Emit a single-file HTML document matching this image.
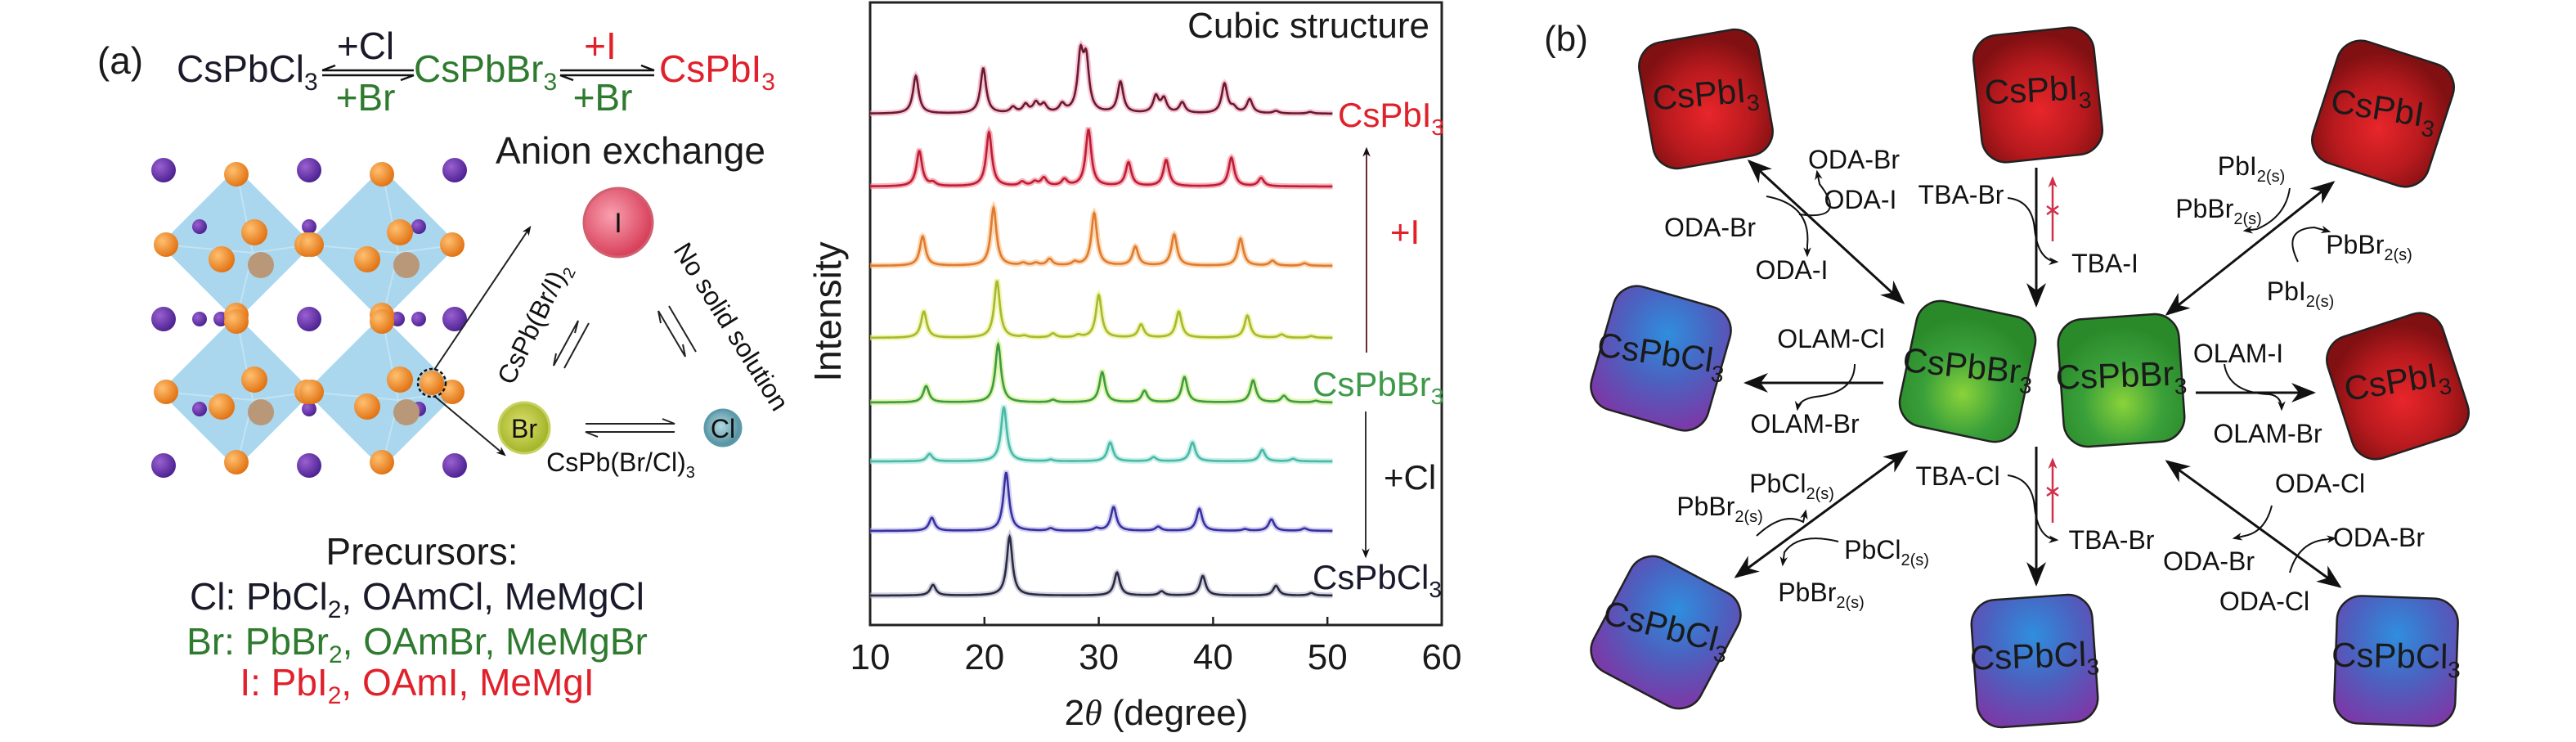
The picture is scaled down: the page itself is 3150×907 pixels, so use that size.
<!DOCTYPE html>
<html><head><meta charset="utf-8"><style>
html,body{margin:0;padding:0;background:#fff;}
svg{display:block;}
text{font-family:"Liberation Sans",sans-serif;}
</style></head><body>
<svg id="fig" width="3150" height="907" viewBox="0 0 3150 907" xmlns="http://www.w3.org/2000/svg">
<defs>
<marker id="ah" viewBox="0 0 10 10" refX="9" refY="5" markerWidth="30" markerHeight="30" orient="auto-start-reverse" markerUnits="userSpaceOnUse"><path d="M0,1 L10,5 L0,9 L3,5 z" fill="#111"/></marker>
<marker id="hs" viewBox="0 0 10 10" refX="8" refY="5" markerWidth="12" markerHeight="12" orient="auto" markerUnits="userSpaceOnUse"><path d="M0,1 L10,5 L0,9 L3,5 z" fill="#111"/></marker>
<marker id="hr" viewBox="0 0 10 10" refX="8" refY="5" markerWidth="14" markerHeight="14" orient="auto" markerUnits="userSpaceOnUse"><path d="M0,1 L10,5 L0,9 L3,5 z" fill="#d0304a"/></marker>
<radialGradient id="gRed" cx="0.5" cy="0.62" r="0.6"><stop offset="0" stop-color="#e8262a"/><stop offset="0.6" stop-color="#b81a1e"/><stop offset="1" stop-color="#801012"/></radialGradient>
<radialGradient id="gGreen" cx="0.5" cy="0.68" r="0.6"><stop offset="0" stop-color="#8ad33a"/><stop offset="0.55" stop-color="#3aa03a"/><stop offset="1" stop-color="#2a8a2a"/></radialGradient>
<radialGradient id="gBlue" cx="0.5" cy="0.3" r="0.75"><stop offset="0" stop-color="#2f8ede"/><stop offset="0.5" stop-color="#4b62c0"/><stop offset="1" stop-color="#7a3aa8"/></radialGradient>
<radialGradient id="gI" cx="0.4" cy="0.4" r="0.6"><stop offset="0" stop-color="#f9a0b0"/><stop offset="1" stop-color="#d8405a"/></radialGradient>
<radialGradient id="gBr" cx="0.45" cy="0.45" r="0.6"><stop offset="0" stop-color="#e0e070"/><stop offset="1" stop-color="#9ab020"/></radialGradient>
<radialGradient id="gCl" cx="0.45" cy="0.45" r="0.6"><stop offset="0" stop-color="#b0d8e0"/><stop offset="1" stop-color="#4a8898"/></radialGradient>
<radialGradient id="gOr" cx="0.35" cy="0.35" r="0.7"><stop offset="0" stop-color="#ffc070"/><stop offset="1" stop-color="#e07010"/></radialGradient>
<radialGradient id="gPu" cx="0.35" cy="0.35" r="0.7"><stop offset="0" stop-color="#9a60d0"/><stop offset="1" stop-color="#4a2090"/></radialGradient>
</defs>

<g font-size="46">
<text x="147" y="90" text-anchor="middle" fill="#1a1a1a">(a)</text>
<text x="216" y="100" fill="#1a1a2a">CsPbCl<tspan font-size="30" dy="10">3</tspan></text>
<text x="447" y="72" text-anchor="middle" fill="#1a1a2a">+Cl</text>
<text x="447" y="135" text-anchor="middle" fill="#2e7a2e">+Br</text>
<g stroke="#111" stroke-width="2.5" fill="none">
<path d="M394,86 L506,86"/><path d="M394,86 L410,80"/><path d="M394,92 L506,92"/><path d="M506,92 L490,98"/></g>
<text x="506" y="100" fill="#2e7a2e">CsPbBr<tspan font-size="30" dy="10">3</tspan></text>
<text x="734" y="72" text-anchor="middle" fill="#e0202a">+I</text>
<text x="737" y="135" text-anchor="middle" fill="#2e7a2e">+Br</text>
<g stroke="#111" stroke-width="2.5" fill="none">
<path d="M685,86 L800,86"/><path d="M800,86 L784,80"/><path d="M685,92 L800,92"/><path d="M685,92 L701,98"/></g>
<text x="806" y="100" fill="#e0202a">CsPbI<tspan font-size="30" dy="10">3</tspan></text>
<text x="771" y="200" text-anchor="middle" fill="#1a1a1a">Anion exchange</text>
</g>

<g id="crystal"></g>

<g>
<path d="M531,452 L648,278" stroke="#222" stroke-width="2" marker-end="url(#hs)" fill="none"/>
<path d="M531,484 L617,556" stroke="#222" stroke-width="2" marker-end="url(#hs)" fill="none"/>
<circle cx="528" cy="468" r="17" fill="none" stroke="#111" stroke-width="2.5" stroke-dasharray="4 3"/>
<circle cx="756" cy="272" r="42" fill="url(#gI)" stroke="#d06070" stroke-width="3"/>
<text x="756" y="284" text-anchor="middle" font-size="34" fill="#111">I</text>
<circle cx="641" cy="523" r="31" fill="url(#gBr)" stroke="#c8d060" stroke-width="3"/>
<text x="641" y="535" text-anchor="middle" font-size="32" fill="#111">Br</text>
<circle cx="884" cy="523" r="22" fill="url(#gCl)" stroke="#5a9aaa" stroke-width="3"/>
<text x="884" y="535" text-anchor="middle" font-size="32" fill="#111">Cl</text>
<g stroke="#222" stroke-width="2" fill="none">
<path d="M716,518 L825,518 L810,512"/><path d="M825,528 L716,528 L731,534"/>
<path d="M677,447 L707,392 L703,407"/><path d="M690,450 L720,395"/><path d="M677,447 L680,432"/>
<path d="M805,380 L838,436 L835,421"/><path d="M818,374 L851,430"/><path d="M805,380 L808,395"/>
</g>
<text transform="translate(662,400) rotate(-64)" text-anchor="middle" font-size="32" fill="#111">CsPb(Br/I)<tspan font-size="20" dy="8">2</tspan></text>
<text transform="translate(885,405) rotate(58)" text-anchor="middle" font-size="32" fill="#111">No solid solution</text>
<text x="759" y="576" text-anchor="middle" font-size="32" fill="#111">CsPb(Br/Cl)<tspan font-size="20" dy="8">3</tspan></text>
</g>

<g font-size="46" text-anchor="middle">
<text x="516" y="690" fill="#1a1a1a">Precursors:</text>
<text x="510" y="745" fill="#1a1a2a">Cl: PbCl<tspan font-size="30" dy="10">2</tspan><tspan dy="-10">, OAmCl, MeMgCl</tspan></text>
<text x="510" y="800" fill="#2e7a2e">Br: PbBr<tspan font-size="30" dy="10">2</tspan><tspan dy="-10">, OAmBr, MeMgBr</tspan></text>
<text x="510" y="850" fill="#e0202a">I: PbI<tspan font-size="30" dy="10">2</tspan><tspan dy="-10">, OAmI, MeMgI</tspan></text>
</g>

<g id="xrd">
<rect x="1064" y="3" width="699" height="761" fill="none" stroke="#222" stroke-width="3"/>
<g id="traces"></g>
<g id="xticks"></g>
<text x="1748" y="46" text-anchor="end" font-size="44" fill="#1a1a1a">Cubic structure</text>
<text transform="translate(1028,381) rotate(-90)" text-anchor="middle" font-size="46" fill="#1a1a1a">Intensity</text>
<text x="1414" y="886" text-anchor="middle" font-size="44" fill="#1a1a1a">2<tspan font-family="Liberation Serif" font-style="italic">θ</tspan> (degree)</text>
<text x="1636" y="155" font-size="42" fill="#e0202a">CsPbI<tspan font-size="28" dy="10">3</tspan></text>
<text x="1605" y="484" font-size="42" fill="#3e9a4a">CsPbBr<tspan font-size="28" dy="10">3</tspan></text>
<text x="1605" y="720" font-size="42" fill="#1a1a2a">CsPbCl<tspan font-size="28" dy="10">3</tspan></text>
<text x="1700" y="298" font-size="42" fill="#e0202a">+I</text>
<text x="1692" y="598" font-size="42" fill="#1a1a1a">+Cl</text>
<line x1="1671" y1="431" x2="1671" y2="182" stroke="#6a2a30" stroke-width="2" marker-end="url(#hs)"/>
<line x1="1670" y1="503" x2="1670" y2="680" stroke="#333" stroke-width="2" marker-end="url(#hs)"/>
</g>

<g id="panelb">
<text x="1915" y="62" text-anchor="middle" font-size="44" fill="#1a1a1a">(b)</text>
<g id="boxes"></g>
<g stroke="#111" stroke-width="3" fill="none">
<path d="M2139,197 L2327,370" marker-start="url(#ah)" marker-end="url(#ah)"/>
<path d="M2490,205 L2490,373" marker-end="url(#ah)"/>
<path d="M2853,223 L2650,384" marker-start="url(#ah)" marker-end="url(#ah)"/>
<path d="M2303,468 L2135,468" marker-end="url(#ah)"/>
<path d="M2685,480 L2829,480" marker-end="url(#ah)"/>
<path d="M2331,552 L2123,705" marker-start="url(#ah)" marker-end="url(#ah)"/>
<path d="M2490,546 L2490,714" marker-end="url(#ah)"/>
<path d="M2650,564 L2861,717" marker-start="url(#ah)" marker-end="url(#ah)"/>
</g>
<g stroke="#111" stroke-width="2" fill="none">
<path d="M2455,242 Q2485,245 2488,280 Q2492,318 2515,320" marker-end="url(#hs)"/>
<path d="M2455,581 Q2485,585 2488,620 Q2492,658 2515,660" marker-end="url(#hs)"/>
<path d="M2200,262 Q2260,270 2225,225 L2222,210" marker-end="url(#hs)"/>
<path d="M2160,240 Q2215,250 2210,300 L2210,312" marker-end="url(#hs)"/>
<path d="M2800,230 Q2795,265 2760,280 L2745,282" marker-end="url(#hs)"/>
<path d="M2810,320 Q2790,280 2830,278 L2848,283" marker-end="url(#hs)"/>
<path d="M2268,445 Q2268,480 2220,485 Q2200,488 2198,500" marker-end="url(#hs)"/>
<path d="M2720,445 Q2725,480 2775,482 Q2790,484 2790,500" marker-end="url(#hs)"/>
<path d="M2148,655 Q2180,625 2205,638 L2208,625" marker-end="url(#hs)"/>
<path d="M2248,662 Q2200,650 2182,675 L2180,690" marker-end="url(#hs)"/>
<path d="M2778,618 Q2770,650 2745,655 L2732,658" marker-end="url(#hs)"/>
<path d="M2800,700 Q2810,665 2840,660 L2855,658" marker-end="url(#hs)"/>
</g>
<g stroke="#d0304a" stroke-width="2.5" fill="none">
<path d="M2510,295 L2510,218" marker-end="url(#hr)"/><path d="M2503,252 L2517,262 M2517,252 L2503,262"/>
<path d="M2510,639 L2510,562" marker-end="url(#hr)"/><path d="M2503,596 L2517,606 M2517,596 L2503,606"/>
</g>
<g id="blabels" font-size="32" fill="#111" text-anchor="middle"></g>
</g>

<script>
const xTicks = [10, 20, 30, 40, 50, 60];
const seriesNames = ["CsPbI3", "I-rich", "I-mid", "Br-I", "CsPbBr3", "Br-Cl", "Cl-rich", "CsPbCl3"];
const seriesOffsets = [625, 536, 439, 351, 272, 200, 115, 36];
const peaksCsPbI3 = [[14.0,46],[19.9,55],[22.5,7],[23.6,10],[24.5,12],[25.2,10],[26.8,10],[28.4,66],[28.9,60],[31.9,38],[35.0,20],[35.7,17],[37.3,13],[41.0,36],[41.8,6],[43.2,17],[45.5,3],[48.5,2]];
const peaksIRich = [[14.3,43],[15.5,4],[20.4,66],[23.3,5],[24.4,5],[25.2,10],[27.0,8],[29.1,69],[32.6,29],[35.9,32],[41.6,35],[44.2,10]];
const peaksIMid = [[14.6,36],[20.8,71],[23.4,3],[24.5,3],[25.7,8],[27.9,4],[29.6,64],[33.2,23],[36.6,38],[42.4,33],[45.2,6],[48.0,3]];
const peaksBrI = [[14.7,32],[21.1,69],[23.5,2],[26.0,5],[28.2,3],[30.0,52],[33.7,16],[37.0,32],[43.0,27],[46.0,4],[48.6,2]];
const peaksCsPbBr3 = [[14.9,20],[21.2,71],[26.0,3],[30.3,37],[34.0,14],[37.5,31],[43.5,27],[46.2,8],[49.0,2]];
const peaksBrCl = [[15.2,9],[21.7,66],[25.8,2],[31.0,23],[34.8,5],[38.2,23],[44.3,14],[47.0,3]];
const peaksClRich = [[15.4,16],[21.9,71],[25.8,3],[29.8,3],[31.3,29],[35.2,5],[38.8,27],[42.8,2],[45.1,14],[48.0,3]];
const peaksCsPbCl3 = [[15.5,13],[22.2,72],[31.6,28],[35.5,5],[39.1,24],[45.5,12],[48.6,3]];
const seriesPeaks = [peaksCsPbI3, peaksIRich, peaksIMid, peaksBrI, peaksCsPbBr3, peaksBrCl, peaksClRich, peaksCsPbCl3];
const seriesColors = ["#6a1a2c","#c01c34","#e07a30","#a8b830","#3e9a4a","#4cb8a8","#3a30a0","#2a2a48"];
const haloColors = ["#f0a0c0","#f08090","#f8c080","#e8f080","#c8f070","#a0e8d8","#b0b0e8","#b0b0c0"];

const X0 = 1064, X1 = 1763, XMIN = 10, XMAX = 60, YBASE = 764;
function xPix(v){ return X0 + (v - XMIN) / (XMAX - XMIN) * (X1 - X0); }
function yPix(v){ return YBASE - v; }
const NS = "http://www.w3.org/2000/svg";

function subText(parent, main, sub, x, y, size, subSize, attrs){
  const t = document.createElementNS(NS, "text");
  t.setAttribute("x", x); t.setAttribute("y", y);
  for (const k in attrs) t.setAttribute(k, attrs[k]);
  t.setAttribute("font-size", size);
  t.appendChild(document.createTextNode(main));
  if (sub) {
    const s = document.createElementNS(NS, "tspan");
    s.setAttribute("font-size", subSize); s.setAttribute("dy", Math.round(size*0.25));
    s.textContent = sub; t.appendChild(s);
  }
  parent.appendChild(t);
  return t;
}

const tg = document.getElementById("xticks");
xTicks.forEach(t => {
  const l = document.createElementNS(NS, "line");
  l.setAttribute("x1", xPix(t)); l.setAttribute("x2", xPix(t));
  l.setAttribute("y1", YBASE); l.setAttribute("y2", YBASE - 10);
  l.setAttribute("stroke", "#222"); l.setAttribute("stroke-width", "2.5");
  
  
  tg.appendChild(l);
  const tx = document.createElementNS(NS, "text");
  tx.setAttribute("x", xPix(t)); tx.setAttribute("y", 818);
  tx.setAttribute("text-anchor", "middle"); tx.setAttribute("font-size", "44"); tx.setAttribute("fill", "#1a1a1a");
  tx.textContent = t;
  
  
  tg.appendChild(tx);
});

const trg = document.getElementById("traces");
seriesPeaks.forEach((pk, i) => {
  let d = "";
  for (let x = 10; x <= 50.45; x += 0.04) {
    let v = seriesOffsets[i];
    pk.forEach(p => { const g = 0.3; v += p[1] * g * g / ((x - p[0]) * (x - p[0]) + g * g); });
    d += (d ? "L" : "M") + xPix(x).toFixed(1) + "," + yPix(v).toFixed(1);
  }
  const halo = document.createElementNS(NS, "path");
  halo.setAttribute("d", d); halo.setAttribute("fill", "none");
  halo.setAttribute("stroke", haloColors[i]); halo.setAttribute("stroke-width", "7"); halo.setAttribute("opacity", "0.6");
  
  
  trg.appendChild(halo);
  const p = document.createElementNS(NS, "path");
  p.setAttribute("d", d); p.setAttribute("fill", "none");
  p.setAttribute("stroke", seriesColors[i]); p.setAttribute("stroke-width", "2.6");
  
  
  trg.appendChild(p);
});

const cr = document.getElementById("crystal");
function add(tag, attrs, name){
  const e = document.createElementNS(NS, tag);
  for (const k in attrs) e.setAttribute(k, attrs[k]);
  
  
  cr.appendChild(e); return e;
}
const octC = [[289,299],[467,299],[289,479],[467,479]];
octC.forEach(c => {
  add("path", {d:`M${c[0]},${c[1]-92} L${c[0]+92},${c[1]} L${c[0]},${c[1]+92} L${c[0]-92},${c[1]} Z`, fill:"#8ec8e8", "fill-opacity":"0.75", stroke:"#a8d8f0", "stroke-width":"2"}, "octahedron");
  add("path", {d:`M${c[0]},${c[1]-92} L${c[0]+20},${c[1]+10} L${c[0]},${c[1]+92} M${c[0]-92},${c[1]} L${c[0]+20},${c[1]+10} L${c[0]+92},${c[1]}`, fill:"none", stroke:"#c0e4f4", "stroke-width":"2"}, "octahedron-edge");
});
[200,378,556].forEach(x => [208,390,569].forEach(y => add("circle", {cx:x, cy:y, r:15, fill:"url(#gPu)"}, "cs-atom")));
[[244,277],[378,277],[512,277],[244,500],[378,500],[512,500],[378,300],[378,479],[244,390],[512,390],[270,390],[486,390]].forEach(p => add("circle", {cx:p[0], cy:p[1], r:9, fill:"url(#gPu)"}, "cs-atom-small"));
octC.forEach(c => {
  [[0,-86],[86,0],[0,86],[-86,0],[22,-15],[-18,18],[30,25]].forEach((o, j) => {
    add("circle", {cx:c[0]+o[0], cy:c[1]+o[1], r: j > 3 ? 16 : 15, fill: j === 6 ? "#b89878" : "url(#gOr)"}, "halide-atom");
  });
});
add("circle", {cx:528, cy:468, r:15, fill:"url(#gOr)"}, "highlighted-halide");

const bx = document.getElementById("boxes");
const boxList = [
  [2086,121,-10,"gRed","CsPbI","3"],[2492,116,-6,"gRed","CsPbI","3"],[2914,139,18,"gRed","CsPbI","3"],
  [2031,438,16,"gBlue","CsPbCl","3"],[2406,454,12,"gGreen","CsPbBr","3"],[2594,465,-4,"gGreen","CsPbBr","3"],
  [2932,472,-18,"gRed","CsPbI","3"],[2037,773,28,"gBlue","CsPbCl","3"],[2488,808,-4,"gBlue","CsPbCl","3"],[2930,808,2,"gBlue","CsPbCl","3"]
];
boxList.forEach(b => {
  const g = document.createElementNS(NS, "g");
  g.setAttribute("transform", `translate(${b[0]},${b[1]}) rotate(${b[2]})`);
  
  
  const r = document.createElementNS(NS, "rect");
  r.setAttribute("x", -74); r.setAttribute("y", -78); r.setAttribute("width", 148); r.setAttribute("height", 156);
  r.setAttribute("rx", 30); r.setAttribute("fill", `url(#${b[3]})`); r.setAttribute("stroke", "#222"); r.setAttribute("stroke-width", "2.5");
  g.appendChild(r);
  bx.appendChild(g);
  const t = subText(bx, b[4], b[5], b[0], b[1] + 8, 42, 28, {"text-anchor":"middle", fill:"#1a1a1a", transform:`rotate(${b[2]*0.5} ${b[0]} ${b[1]})`});
  
  
});

const bl = document.getElementById("blabels");
const labelList = [
  ["ODA-Br","",2267,206],["ODA-I","",2275,255],["ODA-Br","",2091,289],["ODA-I","",2191,341],
  ["TBA-Br","",2398,249],["TBA-I","",2574,333],
  ["PbI","2(s)",2753,214],["PbBr","2(s)",2713,266],["PbBr","2(s)",2897,310],["PbI","2(s)",2813,367],
  ["OLAM-Cl","",2239,425],["OLAM-Br","",2207,529],["OLAM-I","",2737,443],["OLAM-Br","",2773,541],
  ["PbCl","2(s)",2191,602],["PbBr","2(s)",2103,630],["PbCl","2(s)",2307,683],["PbBr","2(s)",2227,735],
  ["TBA-Cl","",2394,593],["TBA-Br","",2582,671],
  ["ODA-Cl","",2837,602],["ODA-Br","",2909,668],["ODA-Br","",2701,697],["ODA-Cl","",2769,746]
];
labelList.forEach(l => {
  const t = subText(bl, l[0], l[1], l[2], l[3], 32, 20, {});
  
  
});
</script>
</svg>
</body></html>
